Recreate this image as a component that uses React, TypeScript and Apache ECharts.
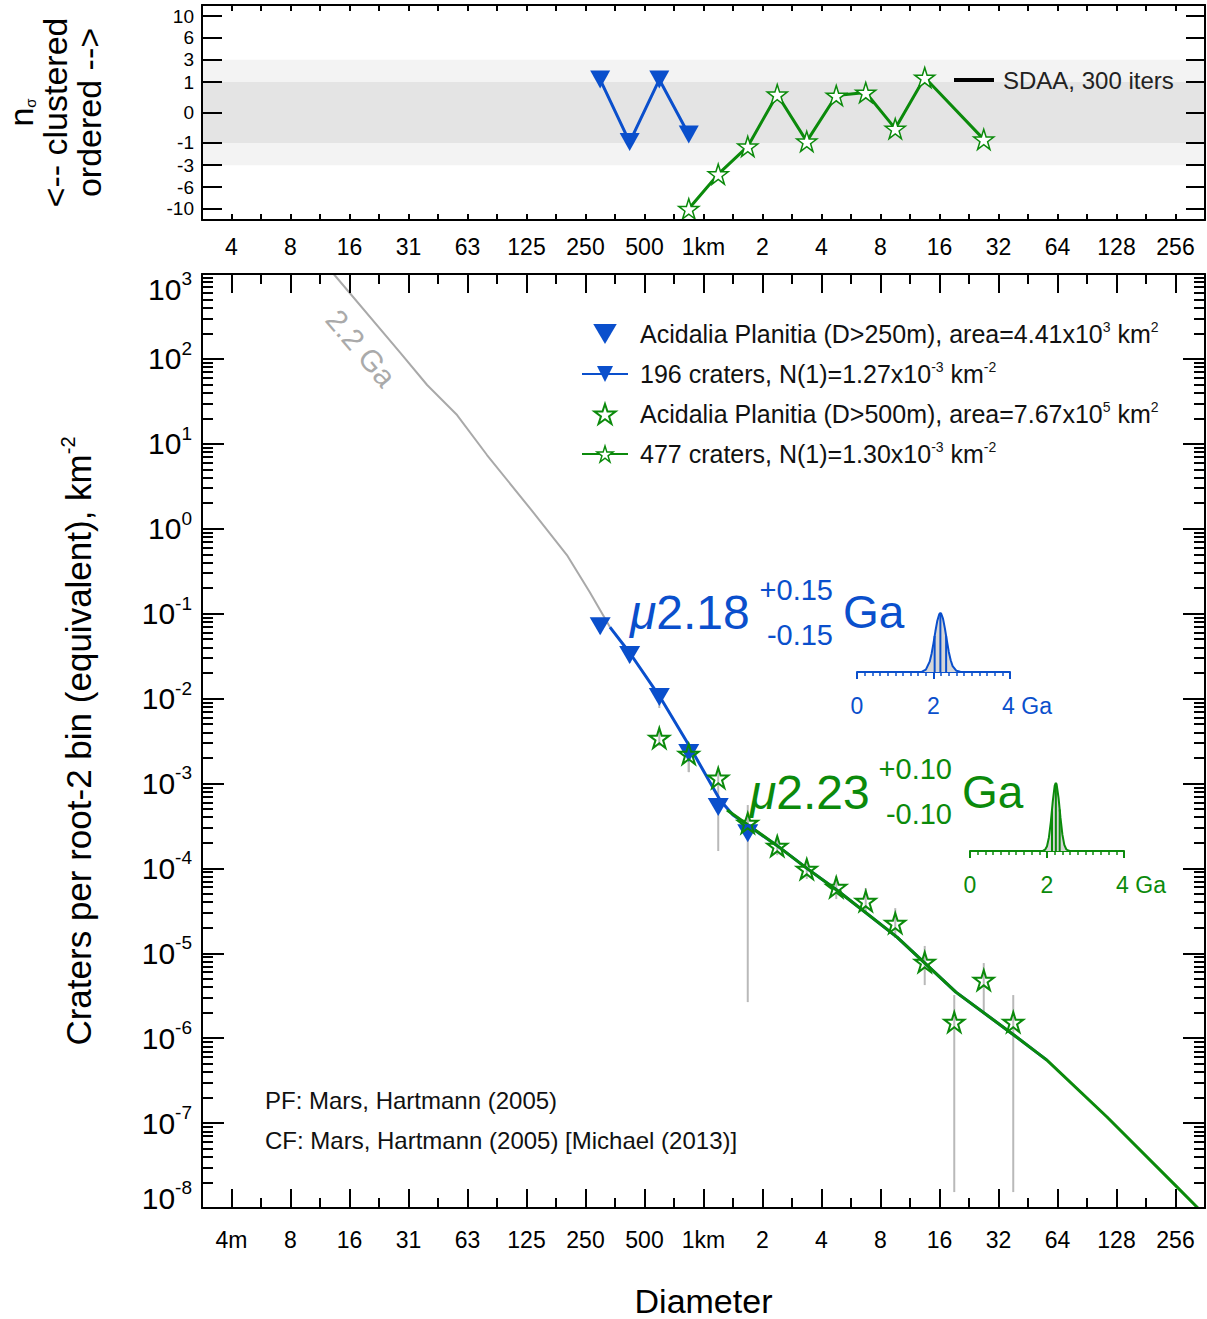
import React, { useEffect, useRef } from 'react';
import * as echarts from 'echarts';

const FONT = '"Liberation Sans", Arial, Helvetica, sans-serif';
const BLUE = '#0a4fcc';
const GREEN = '#0b8a0b';
const PF_GREY = '#a9a9a9';
const ERR_GREY = '#b9b9b9';

const TRI = 'path://M0,0L20,0L10,17Z';
const STAR = 'path://M50,0L61.2,34.5L97.6,34.5L68.2,55.9L79.4,90.5L50,69.1L20.6,90.5L31.8,55.9L2.4,34.5L38.8,34.5Z';

// ---- axis tick labels ----
const octaves = [-8, -7, -6, -5, -4, -3, -2, -1, 0, 1, 2, 3, 4, 5, 6, 7, 8];
const topXLabels = ['4', '8', '16', '31', '63', '125', '250', '500', '1km', '2', '4', '8', '16', '32', '64', '128', '256'];
const mainXLabels = ['4m', '8', '16', '31', '63', '125', '250', '500', '1km', '2', '4', '8', '16', '32', '64', '128', '256'];
const nSigmaTicks = [-10, -6, -3, -1, 0, 1, 3, 6, 10];
const decades = [-8, -7, -6, -5, -4, -3, -2, -1, 0, 1, 2, 3];

// ---- top panel: n_sigma (randomness analysis) ----
const topBlueD = [0.297, 0.42, 0.595, 0.841];
const topBlueN = [1.17, -0.94, 1.17, -0.52];
const topGreenD = [0.841, 1.189, 1.682, 2.378, 3.364, 4.757, 6.727, 9.514, 13.45, 26.91];
const topGreenN = [-10, -4.1, -1.24, 0.35, -0.9, 0.31, 0.43, -0.28, 1.32, -0.78];

// ---- main panel: crater densities (km^-2) ----
const blueD = [0.297, 0.42, 0.595, 0.841, 1.189, 1.682];
const blueN = [7.1e-2, 3.25e-2, 1.04e-2, 2.28e-3, 5.27e-4, 2.6e-4];
const blueErrHi = [8.87e-2, 3.94e-2, 1.33e-2, 2.83e-3, 8.36e-4, 5.57e-4];
const blueErrLo = [5.75e-2, 2.62e-2, 7.73e-3, 1.36e-3, 1.6e-4, 2.66e-6];

const greenD = [0.595, 0.841, 1.189, 1.682, 2.378, 3.364, 4.757, 6.727, 9.514, 13.45, 19.03, 26.91, 38.05];
const greenN = [3.43e-3, 2.22e-3, 1.16e-3, 3.42e-4, 1.83e-4, 9.8e-5, 6.0e-5, 4.12e-5, 2.27e-5, 7.87e-6, 1.55e-6, 4.83e-6, 1.55e-6];
const greenErrHi = [4.26e-3, 2.76e-3, 1.52e-3, 4.36e-4, 2.27e-4, 1.25e-4, 8.1e-5, 5.86e-5, 3.4e-5, 1.22e-5, 3.22e-6, 7.67e-6, 3.22e-6];
const greenErrLo = [2.76e-3, 1.36e-3, 8.36e-4, 2.6e-4, 1.43e-4, 7.5e-5, 4.35e-5, 3.05e-5, 1.51e-5, 4.22e-6, 1.54e-8, 1.98e-6, 1.54e-8];

// production function isochron (2.2 Ga)
const pfD = [0.011, 0.0131, 0.0282, 0.0389, 0.0553, 0.0786, 0.135, 0.201, 0.263, 0.322, 0.333];
const pfN = [1580, 973, 120.5, 49.3, 21.8, 7.38, 1.57, 0.49, 0.179, 0.0796, 0.0695];

// fitted isochrons
const blueFitD = [0.333, 0.421, 0.6, 0.853, 1.214, 1.414, 2.43, 3.41, 4.86, 9.71, 19.4, 38.3, 56.5];
const blueFitN = [6.95e-2, 3.44e-2, 1.04e-2, 2.69e-3, 6.37e-4, 4.25e-4, 1.78e-4, 9.8e-5, 5.41e-5, 1.55e-5, 3.49e-6, 1.09e-6, 5.52e-7];
const greenFitD = [1.318, 2.43, 3.41, 4.86, 9.71, 19.4, 38.3, 56.5, 114.5, 261, 333];
const greenFitN = [4.86e-4, 1.78e-4, 9.8e-5, 5.41e-5, 1.55e-5, 3.49e-6, 1.09e-6, 5.52e-7, 1.18e-7, 1.76e-8, 1.0e-8];

// age probability insets (Ga, relative)
const pdfBlueAge = [1.6, 1.7, 1.8, 1.9, 1.95, 2.0, 2.05, 2.1, 2.15, 2.18, 2.2, 2.25, 2.3, 2.35, 2.4, 2.45, 2.5, 2.6, 2.7, 2.8];
const pdfBlueP = [0.001, 0.006, 0.04, 0.175, 0.31, 0.49, 0.69, 0.87, 0.98, 1, 0.99, 0.9, 0.73, 0.53, 0.34, 0.2, 0.1, 0.02, 0.003, 0];
const pdfBlueMarkAge = [2.03, 2.18, 2.33];
const pdfBlueMarkP = [0.61, 1, 0.61];
const pdfGreenAge = [1.9, 1.95, 2.0, 2.05, 2.1, 2.15, 2.2, 2.23, 2.25, 2.3, 2.35, 2.4, 2.45, 2.5, 2.55, 2.6];
const pdfGreenP = [0.004, 0.02, 0.07, 0.2, 0.43, 0.73, 0.96, 1, 0.98, 0.78, 0.49, 0.24, 0.09, 0.026, 0.006, 0];
const pdfGreenMarkAge = [2.13, 2.23, 2.33];
const pdfGreenMarkP = [0.61, 1, 0.61];

const LEG1 = 'Acidalia Planitia (D>250m), area=4.41x10^3 km^2';
const LEG2 = '196 craters, N(1)=1.27x10^-3 km^-2';
const LEG3 = 'Acidalia Planitia (D>500m), area=7.67x10^5 km^2';
const LEG4 = '477 craters, N(1)=1.30x10^-3 km^-2';
const legendRich: Record<string, string> = {
  [LEG1]: 'Acidalia Planitia (D>250m), area=4.41x10{s|3} km{s|2}',
  [LEG2]: '196 craters, N(1)=1.27x10{s|-3} km{s|-2}',
  [LEG3]: 'Acidalia Planitia (D>500m), area=7.67x10{s|5} km{s|2}',
  [LEG4]: '477 craters, N(1)=1.30x10{s|-3} km{s|-2}',
};
const SDAA = 'SDAA, 300 iters';

function buildOption() {
  const lg2 = Math.log2;
  const lg10 = Math.log10;
  const ssq = (v: number) => Math.sign(v) * Math.sqrt(Math.abs(v));
  const xyLog = (d: number[], n: number[]) => d.map((v, i) => [lg2(v), lg10(n[i])]);

  const halfSteps: number[] = [];
  for (let v = -8; v <= 8.001; v += 0.5) halfSteps.push(v);
  const mainMinorX: number[] = [];
  for (let v = -7.5; v <= 7.501; v += 1) mainMinorX.push(v);
  const minorY: number[] = [];
  for (const k of decades.slice(0, -1)) for (let m = 2; m <= 9; m++) minorY.push(k + Math.log10(m));
  const nSigmaPos = nSigmaTicks.map(ssq);

  const axisLine = { show: true, onZero: false, lineStyle: { color: '#000', width: 2 } };
  const noLine = { show: false, onZero: false };
  const tickStyle = { color: '#000', width: 2 };
  const Z_AX = 6;

  const xBase = (grid: number, pos: string) => ({
    type: 'value', gridIndex: grid, position: pos, min: -8.5, max: 8.5, z: Z_AX,
    splitLine: { show: false },
  });
  const yBaseMain = (pos: string) => ({
    type: 'value', gridIndex: 1, position: pos, min: -8, max: 3, z: Z_AX,
    splitLine: { show: false },
  });

  const mainYRich = {
    b: { fontSize: 30, lineHeight: 40, fontFamily: FONT, color: '#000' },
    s: { fontSize: 19, lineHeight: 19, verticalAlign: 'top', fontFamily: FONT, color: '#000' },
    sp1: { fontSize: 10, lineHeight: 30, fontFamily: FONT, color: '#000' },
    sp2: { fontSize: 10, lineHeight: 20, fontFamily: FONT, color: '#000' },
  };

  const errRender = (color: string) => (params: any, api: any) => {
    const x = api.value(0);
    const p1 = api.coord([x, api.value(1)]);
    const p2 = api.coord([x, api.value(2)]);
    return {
      type: 'line',
      shape: { x1: p1[0], y1: p1[1], x2: p2[0], y2: p2[1] },
      style: { stroke: color, lineWidth: 2 },
    };
  };
  const stemRender = (color: string) => (params: any, api: any) => {
    const p1 = api.coord([api.value(0), 0]);
    const p2 = api.coord([api.value(0), api.value(1)]);
    return {
      type: 'line',
      shape: { x1: p1[0], y1: p1[1], x2: p2[0], y2: p2[1] },
      style: { stroke: color, lineWidth: 2 },
    };
  };

  const insetX = (grid: number, color: string) => ({
    type: 'value', gridIndex: grid, min: 0, max: 4, interval: 2, position: 'bottom',
    splitLine: { show: false },
    axisLine: { show: true, onZero: false, lineStyle: { color, width: 2 } },
    axisTick: { show: true, length: 7, lineStyle: { color, width: 2 } },
    minorTick: { show: true, splitNumber: 10, length: 4, lineStyle: { color, width: 1.5 } },
    minorSplitLine: { show: false },
    axisLabel: {
      color, fontSize: 23, fontFamily: FONT, margin: 22,
      formatter: (v: number) => (v === 4 ? '{g|4 Ga}' : String(v)),
      rich: { g: { fontSize: 23, fontFamily: FONT, color, padding: [0, 0, 0, 34] } },
    },
  });

  const txt = (x: number, y: number, text: string, size: number, color: string, align = 'left', rich?: any) => ({
    type: 'text', x, y, z: 10,
    style: {
      text, fill: color, fontSize: size, fontFamily: FONT,
      align, textAlign: align, verticalAlign: 'middle', textVerticalAlign: 'middle',
      rich,
    },
  });
  const muRich = (color: string) => ({ i: { fontStyle: 'italic', fontSize: 48, fontFamily: FONT, fill: color } });

  const gridCommon = { containLabel: false, outerBoundsMode: 'none' };

  return {
    animation: false,
    backgroundColor: '#fff',
    textStyle: { fontFamily: FONT },
    grid: [
      { ...gridCommon, left: 202, top: 5, width: 1003, height: 215 },
      { ...gridCommon, left: 202, top: 274, width: 1003, height: 934 },
      { ...gridCommon, left: 857, top: 613, width: 153, height: 59 },
      { ...gridCommon, left: 970, top: 783, width: 154, height: 68 },
    ],
    xAxis: [
      // 0: top panel bottom
      {
        ...xBase(0, 'bottom'), axisLine,
        axisTick: { show: true, inside: true, length: 6, lineStyle: tickStyle, customValues: halfSteps },
        axisLabel: { show: true, fontSize: 23, color: '#000', margin: 15, customValues: octaves, formatter: (v: number) => topXLabels[Math.round(v) + 8] },
      },
      // 1: top panel top
      {
        ...xBase(0, 'top'), axisLine,
        axisTick: { show: true, inside: true, length: 6, lineStyle: tickStyle, customValues: halfSteps },
        axisLabel: { show: false },
      },
      // 2: main bottom major
      {
        ...xBase(1, 'bottom'), axisLine,
        axisTick: { show: true, inside: true, length: 19, lineStyle: tickStyle, customValues: octaves },
        axisLabel: { show: true, fontSize: 23, color: '#000', margin: 20, customValues: octaves, formatter: (v: number) => mainXLabels[Math.round(v) + 8] },
        name: 'Diameter', nameLocation: 'middle', nameGap: 76,
        nameTextStyle: { fontSize: 34, lineHeight: 34, color: '#000', fontFamily: FONT },
      },
      // 3: main bottom minor
      {
        ...xBase(1, 'bottom'), axisLine: noLine,
        axisTick: { show: true, inside: true, length: 10, lineStyle: tickStyle, customValues: mainMinorX },
        axisLabel: { show: false },
      },
      // 4: main top major
      {
        ...xBase(1, 'top'), axisLine,
        axisTick: { show: true, inside: true, length: 19, lineStyle: tickStyle, customValues: octaves },
        axisLabel: { show: false },
      },
      // 5: main top minor
      {
        ...xBase(1, 'top'), axisLine: noLine,
        axisTick: { show: true, inside: true, length: 10, lineStyle: tickStyle, customValues: mainMinorX },
        axisLabel: { show: false },
      },
      insetX(2, BLUE),
      insetX(3, GREEN),
    ],
    yAxis: [
      // 0: top panel left
      {
        type: 'value', gridIndex: 0, position: 'left', min: -3.53, max: 3.53, z: Z_AX,
        splitLine: { show: false }, axisLine,
        axisTick: { show: true, inside: true, length: 20, lineStyle: tickStyle, customValues: nSigmaPos },
        axisLabel: {
          show: true, fontSize: 19, color: '#000', margin: 8, customValues: nSigmaPos,
          formatter: (v: number) => String(Math.round(Math.sign(v) * v * v)),
        },
        name: '{n|n}{sub|σ}\n{l|<-- clustered}\n{l|ordered -->}',
        nameLocation: 'middle', nameRotate: 90, nameGap: 96,
        nameTextStyle: {
          color: '#000', fontFamily: FONT, fontSize: 34, lineHeight: 34,
          rich: {
            n: { fontSize: 34, lineHeight: 34, fontFamily: FONT, color: '#000' },
            sub: { fontSize: 15, lineHeight: 15, verticalAlign: 'bottom', fontFamily: FONT, color: '#000' },
            l: { fontSize: 34, lineHeight: 34, fontFamily: FONT, color: '#000' },
          },
        },
      },
      // 1: top panel right
      {
        type: 'value', gridIndex: 0, position: 'right', min: -3.53, max: 3.53, z: Z_AX,
        splitLine: { show: false }, axisLine,
        axisTick: { show: true, inside: true, length: 19, lineStyle: tickStyle, customValues: nSigmaPos },
        axisLabel: { show: false },
      },
      // 2: main left major
      {
        ...yBaseMain('left'), axisLine,
        axisTick: { show: true, inside: true, length: 22, lineStyle: tickStyle, customValues: decades },
        axisLabel: {
          show: true, margin: 10, customValues: decades,
          formatter: (v: number) => {
            const k = Math.round(v);
            if (k === 3) return `{sp1| }\n{b|10}{s|${k}}`;
            if (k === -8) return `{b|10}{s|${k}}\n{sp2| }`;
            return `{b|10}{s|${k}}`;
          },
          rich: mainYRich,
        },
        name: '{t|Craters per root-2 bin (equivalent), km}{s|-2}',
        nameLocation: 'middle', nameRotate: 90, nameGap: 104,
        nameTextStyle: {
          color: '#000', fontFamily: FONT, fontSize: 35,
          rich: {
            t: { fontSize: 35, lineHeight: 40, fontFamily: FONT, color: '#000' },
            s: { fontSize: 20, lineHeight: 20, verticalAlign: 'top', fontFamily: FONT, color: '#000' },
          },
        },
      },
      // 3: main left minor
      {
        ...yBaseMain('left'), axisLine: noLine,
        axisTick: { show: true, inside: true, length: 11, lineStyle: tickStyle, customValues: minorY },
        axisLabel: { show: false },
      },
      // 4: main right major
      {
        ...yBaseMain('right'), axisLine,
        axisTick: { show: true, inside: true, length: 22, lineStyle: tickStyle, customValues: decades },
        axisLabel: { show: false },
      },
      // 5: main right minor
      {
        ...yBaseMain('right'), axisLine: noLine,
        axisTick: { show: true, inside: true, length: 11, lineStyle: tickStyle, customValues: minorY },
        axisLabel: { show: false },
      },
      { type: 'value', gridIndex: 2, min: 0, max: 1, show: false },
      { type: 'value', gridIndex: 3, min: 0, max: 1, show: false },
    ],
    legend: [
      {
        data: [
          { name: LEG1 },
          { name: LEG2 },
          { name: LEG3, itemStyle: { color: 'rgba(0,0,0,0)', borderColor: GREEN, borderWidth: 2 } },
          { name: LEG4, itemStyle: { color: '#fff', borderColor: GREEN, borderWidth: 1.5 } },
        ],
        orient: 'vertical', left: 576, top: 315, itemWidth: 46, itemHeight: 20, itemGap: 12,
        selectedMode: false,
        formatter: (name: string) => legendRich[name] || name,
        textStyle: {
          fontSize: 25, lineHeight: 28, fontFamily: FONT, color: '#111', padding: [0, 0, 0, 7],
          rich: { s: { fontSize: 14, lineHeight: 14, verticalAlign: 'top', fontFamily: FONT, color: '#111' } },
        },
      },
      {
        data: [{ name: SDAA, icon: 'rect' }],
        left: 949, top: 63, itemWidth: 40, itemHeight: 4, selectedMode: false,
        textStyle: { fontSize: 24, fontFamily: FONT, color: '#222', padding: [0, 0, 0, 4] },
      },
    ],
    series: [
      // background bands of the n_sigma panel
      {
        name: SDAA, type: 'line', xAxisIndex: 0, yAxisIndex: 0, data: [], z: 1,
        color: '#000', symbol: 'none', lineStyle: { color: '#000', width: 4 },
        markArea: {
          silent: true,
          data: [
            [{ yAxis: -Math.sqrt(3), itemStyle: { color: '#f3f3f3' } }, { yAxis: Math.sqrt(3) }],
            [{ yAxis: -1, itemStyle: { color: '#e4e4e4' } }, { yAxis: 1 }],
          ],
        },
      },
      {
        name: 'nsigma D>250m', type: 'line', xAxisIndex: 0, yAxisIndex: 0, z: 3,
        data: topBlueD.map((d, i) => [lg2(d), ssq(topBlueN[i])]),
        symbol: TRI, symbolSize: [20, 18], color: BLUE,
        itemStyle: { color: BLUE }, lineStyle: { color: BLUE, width: 3 },
      },
      {
        name: 'nsigma D>500m', type: 'line', xAxisIndex: 0, yAxisIndex: 0, z: 3,
        data: topGreenD.map((d, i) => [lg2(d), ssq(topGreenN[i])]),
        symbol: STAR, symbolSize: 20, color: GREEN,
        itemStyle: { color: '#fff', borderColor: GREEN, borderWidth: 1.5 },
        lineStyle: { color: GREEN, width: 3 },
      },
      // main panel
      {
        name: '2.2 Ga isochron', type: 'line', xAxisIndex: 2, yAxisIndex: 2, z: 2,
        data: xyLog(pfD, pfN), symbol: 'none', lineStyle: { color: PF_GREY, width: 2 }, color: PF_GREY,
      },
      {
        name: 'err D>250m', type: 'custom', xAxisIndex: 2, yAxisIndex: 2, z: 3, clip: true,
        data: blueD.map((d, i) => [lg2(d), lg10(blueErrLo[i]), lg10(blueErrHi[i])]),
        encode: { x: 0, y: [1, 2] }, renderItem: errRender(ERR_GREY),
      },
      {
        name: 'err D>500m', type: 'custom', xAxisIndex: 2, yAxisIndex: 2, z: 3, clip: true,
        data: greenD.map((d, i) => [lg2(d), lg10(greenErrLo[i]), lg10(greenErrHi[i])]),
        encode: { x: 0, y: [1, 2] }, renderItem: errRender(ERR_GREY),
      },
      {
        name: LEG2, type: 'line', xAxisIndex: 2, yAxisIndex: 2, z: 4,
        data: xyLog(blueFitD, blueFitN), showSymbol: false, symbol: TRI, color: BLUE,
        itemStyle: { color: BLUE }, lineStyle: { color: BLUE, width: 3 },
      },
      {
        name: LEG4, type: 'line', xAxisIndex: 2, yAxisIndex: 2, z: 4,
        data: xyLog(greenFitD, greenFitN), showSymbol: false, symbol: STAR, color: GREEN,
        itemStyle: { color: '#fff', borderColor: GREEN, borderWidth: 1.5 },
        lineStyle: { color: GREEN, width: 3 },
      },
      {
        name: LEG1, type: 'scatter', xAxisIndex: 2, yAxisIndex: 2, z: 5,
        data: xyLog(blueD, blueN), symbol: TRI, symbolSize: [21, 18],
        itemStyle: { color: BLUE, opacity: 1 },
      },
      {
        name: LEG3, type: 'scatter', xAxisIndex: 2, yAxisIndex: 2, z: 6,
        data: xyLog(greenD, greenN), symbol: STAR, symbolSize: 20, color: GREEN,
        itemStyle: { color: 'rgba(255,255,255,0)', borderColor: GREEN, borderWidth: 2, opacity: 1 },
      },
      // insets
      {
        name: 'pdf D>250m', type: 'line', xAxisIndex: 6, yAxisIndex: 6, z: 4,
        data: pdfBlueAge.map((a, i) => [a, pdfBlueP[i]]), symbol: 'none',
        lineStyle: { color: BLUE, width: 2 }, areaStyle: { color: '#d6d6d6', opacity: 1 },
      },
      {
        name: 'pdf marks D>250m', type: 'custom', xAxisIndex: 6, yAxisIndex: 6, z: 5,
        data: pdfBlueMarkAge.map((a, i) => [a, pdfBlueMarkP[i]]), renderItem: stemRender(BLUE),
      },
      {
        name: 'pdf D>500m', type: 'line', xAxisIndex: 7, yAxisIndex: 7, z: 4,
        data: pdfGreenAge.map((a, i) => [a, pdfGreenP[i]]), symbol: 'none',
        lineStyle: { color: GREEN, width: 2 }, areaStyle: { color: '#d6d6d6', opacity: 1 },
      },
      {
        name: 'pdf marks D>500m', type: 'custom', xAxisIndex: 7, yAxisIndex: 7, z: 5,
        data: pdfGreenMarkAge.map((a, i) => [a, pdfGreenMarkP[i]]), renderItem: stemRender(GREEN),
      },
    ],
    graphic: [
      txt(630, 612, '{i|μ}2.18', 48, BLUE, 'left', muRich(BLUE)),
      txt(833, 590, '+0.15', 29, BLUE, 'right'),
      txt(833, 635, '-0.15', 29, BLUE, 'right'),
      txt(843, 612, 'Ga', 46, BLUE, 'left'),
      txt(750, 792, '{i|μ}2.23', 48, GREEN, 'left', muRich(GREEN)),
      txt(952, 769, '+0.10', 29, GREEN, 'right'),
      txt(952, 814, '-0.10', 29, GREEN, 'right'),
      txt(962, 792, 'Ga', 46, GREEN, 'left'),
      {
        type: 'text', x: 361, y: 348, rotation: -0.87, z: 10,
        style: { text: '2.2 Ga', fill: '#aaaaaa', fontSize: 30, fontFamily: FONT, align: 'center', textAlign: 'center', verticalAlign: 'middle', textVerticalAlign: 'middle' },
      },
      txt(265, 1100, 'PF: Mars, Hartmann (2005)', 24, '#111', 'left'),
      txt(265, 1140, 'CF: Mars, Hartmann (2005) [Michael (2013)]', 24, '#111', 'left'),
    ],
  };
}

export default function App() {
  const ref = useRef<HTMLDivElement>(null);
  useEffect(() => {
    if (!ref.current) return;
    const chart = echarts.init(ref.current, undefined, { renderer: 'svg' });
    chart.setOption(buildOption() as any);
    return () => chart.dispose();
  }, []);
  return (
    <div
      ref={ref}
      style={{ position: 'absolute', left: 0, top: 0, width: 1207, height: 1319, background: '#fff' }}
    />
  );
}
